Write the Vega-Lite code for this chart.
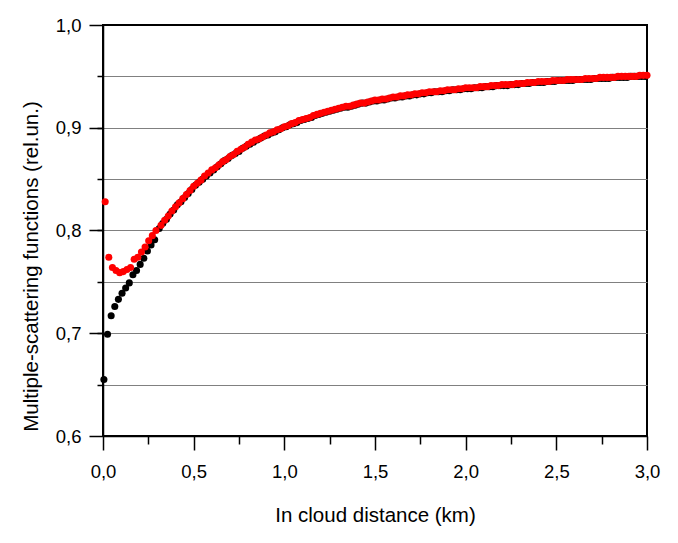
{
  "$schema": "https://vega.github.io/schema/vega-lite/v6.json",
  "width": 544,
  "height": 411,
  "autosize": {"type": "none"},
  "padding": {"left": 103, "top": 25, "right": 31, "bottom": 107},
  "background": "white",
  "config": {
    "view": {"stroke": "#000000", "strokeWidth": 2},
    "axis": {
      "labelFont": "Liberation Sans",
      "titleFont": "Liberation Sans",
      "labelFontSize": 18.5,
      "titleFontSize": 20.5,
      "titleFontWeight": "normal",
      "labelColor": "#000000",
      "titleColor": "#000000",
      "tickColor": "#000000",
      "domainColor": "#000000"
    }
  },
  "datasets": {
    "black": [
      {"x": 0.005, "y": 0.655}, {"x": 0.025, "y": 0.699}, {"x": 0.045, "y": 0.717}, {"x": 0.065, "y": 0.726},
      {"x": 0.085, "y": 0.733}, {"x": 0.105, "y": 0.739}, {"x": 0.125, "y": 0.744}, {"x": 0.145, "y": 0.749},
      {"x": 0.165, "y": 0.757}, {"x": 0.185, "y": 0.761}, {"x": 0.205, "y": 0.767}, {"x": 0.225, "y": 0.773},
      {"x": 0.245, "y": 0.780}, {"x": 0.265, "y": 0.786}, {"x": 0.285, "y": 0.791},
      {"x": 0.31, "y": 0.802}, {"x": 0.33, "y": 0.807}, {"x": 0.35, "y": 0.811}, {"x": 0.37, "y": 0.816},
      {"x": 0.39, "y": 0.820}, {"x": 0.41, "y": 0.825}, {"x": 0.43, "y": 0.828}, {"x": 0.45, "y": 0.832},
      {"x": 0.47, "y": 0.836}, {"x": 0.49, "y": 0.840}, {"x": 0.51, "y": 0.844}, {"x": 0.53, "y": 0.847},
      {"x": 0.55, "y": 0.850}, {"x": 0.57, "y": 0.853}, {"x": 0.59, "y": 0.856}, {"x": 0.61, "y": 0.859},
      {"x": 0.63, "y": 0.862}, {"x": 0.65, "y": 0.865}, {"x": 0.67, "y": 0.868}, {"x": 0.69, "y": 0.870},
      {"x": 0.71, "y": 0.873}, {"x": 0.73, "y": 0.875}, {"x": 0.75, "y": 0.877}, {"x": 0.77, "y": 0.880},
      {"x": 0.79, "y": 0.882}, {"x": 0.81, "y": 0.884}, {"x": 0.83, "y": 0.886}, {"x": 0.85, "y": 0.888},
      {"x": 0.87, "y": 0.890}, {"x": 0.89, "y": 0.892}, {"x": 0.91, "y": 0.893}, {"x": 0.93, "y": 0.895},
      {"x": 0.95, "y": 0.896}, {"x": 0.97, "y": 0.898}, {"x": 0.99, "y": 0.900}, {"x": 1.01, "y": 0.901},
      {"x": 1.03, "y": 0.903}, {"x": 1.05, "y": 0.904}, {"x": 1.07, "y": 0.905}, {"x": 1.09, "y": 0.907},
      {"x": 1.11, "y": 0.908}, {"x": 1.13, "y": 0.909}, {"x": 1.15, "y": 0.910}, {"x": 1.17, "y": 0.912},
      {"x": 1.19, "y": 0.913}, {"x": 1.21, "y": 0.914}, {"x": 1.23, "y": 0.915}, {"x": 1.25, "y": 0.916},
      {"x": 1.27, "y": 0.917}, {"x": 1.29, "y": 0.918}, {"x": 1.31, "y": 0.919}, {"x": 1.33, "y": 0.920},
      {"x": 1.35, "y": 0.920}, {"x": 1.37, "y": 0.921}, {"x": 1.39, "y": 0.922}, {"x": 1.41, "y": 0.923},
      {"x": 1.43, "y": 0.924}, {"x": 1.45, "y": 0.924}, {"x": 1.47, "y": 0.925}, {"x": 1.49, "y": 0.926},
      {"x": 1.51, "y": 0.926}, {"x": 1.53, "y": 0.927}, {"x": 1.55, "y": 0.927}, {"x": 1.57, "y": 0.928},
      {"x": 1.59, "y": 0.929}, {"x": 1.61, "y": 0.929}, {"x": 1.63, "y": 0.930}, {"x": 1.65, "y": 0.930},
      {"x": 1.67, "y": 0.931}, {"x": 1.69, "y": 0.931}, {"x": 1.71, "y": 0.932}, {"x": 1.73, "y": 0.932},
      {"x": 1.75, "y": 0.933}, {"x": 1.77, "y": 0.933}, {"x": 1.79, "y": 0.934}, {"x": 1.81, "y": 0.934},
      {"x": 1.83, "y": 0.935}, {"x": 1.85, "y": 0.935}, {"x": 1.87, "y": 0.935}, {"x": 1.89, "y": 0.936},
      {"x": 1.91, "y": 0.936}, {"x": 1.93, "y": 0.937}, {"x": 1.95, "y": 0.937}, {"x": 1.97, "y": 0.937},
      {"x": 1.99, "y": 0.938}, {"x": 2.01, "y": 0.938}, {"x": 2.03, "y": 0.938}, {"x": 2.05, "y": 0.939},
      {"x": 2.07, "y": 0.939}, {"x": 2.09, "y": 0.939}, {"x": 2.11, "y": 0.940}, {"x": 2.13, "y": 0.940},
      {"x": 2.15, "y": 0.940}, {"x": 2.17, "y": 0.941}, {"x": 2.19, "y": 0.941}, {"x": 2.21, "y": 0.941},
      {"x": 2.23, "y": 0.941}, {"x": 2.25, "y": 0.942}, {"x": 2.27, "y": 0.942}, {"x": 2.29, "y": 0.942},
      {"x": 2.31, "y": 0.943}, {"x": 2.33, "y": 0.943}, {"x": 2.35, "y": 0.943}, {"x": 2.37, "y": 0.944},
      {"x": 2.39, "y": 0.944}, {"x": 2.41, "y": 0.944}, {"x": 2.43, "y": 0.944}, {"x": 2.45, "y": 0.945},
      {"x": 2.47, "y": 0.945}, {"x": 2.49, "y": 0.945}, {"x": 2.51, "y": 0.946}, {"x": 2.53, "y": 0.946},
      {"x": 2.55, "y": 0.946}, {"x": 2.57, "y": 0.946}, {"x": 2.59, "y": 0.946}, {"x": 2.61, "y": 0.947},
      {"x": 2.63, "y": 0.947}, {"x": 2.65, "y": 0.947}, {"x": 2.67, "y": 0.947}, {"x": 2.69, "y": 0.947},
      {"x": 2.71, "y": 0.948}, {"x": 2.73, "y": 0.948}, {"x": 2.75, "y": 0.948}, {"x": 2.77, "y": 0.948},
      {"x": 2.79, "y": 0.948}, {"x": 2.81, "y": 0.949}, {"x": 2.83, "y": 0.949}, {"x": 2.85, "y": 0.949},
      {"x": 2.87, "y": 0.949}, {"x": 2.89, "y": 0.949}, {"x": 2.91, "y": 0.950}, {"x": 2.93, "y": 0.950},
      {"x": 2.95, "y": 0.950}, {"x": 2.97, "y": 0.950}, {"x": 2.99, "y": 0.950}
    ],
    "red": [
      {"x": 0.012, "y": 0.828}, {"x": 0.032, "y": 0.774}, {"x": 0.052, "y": 0.764}, {"x": 0.072, "y": 0.761},
      {"x": 0.092, "y": 0.759}, {"x": 0.112, "y": 0.760}, {"x": 0.132, "y": 0.762}, {"x": 0.152, "y": 0.764},
      {"x": 0.172, "y": 0.772}, {"x": 0.192, "y": 0.774}, {"x": 0.212, "y": 0.779}, {"x": 0.232, "y": 0.784},
      {"x": 0.252, "y": 0.790}, {"x": 0.272, "y": 0.795}, {"x": 0.292, "y": 0.800},
      {"x": 0.32, "y": 0.805}, {"x": 0.34, "y": 0.810}, {"x": 0.36, "y": 0.814}, {"x": 0.38, "y": 0.819},
      {"x": 0.40, "y": 0.823}, {"x": 0.42, "y": 0.827}, {"x": 0.44, "y": 0.831}, {"x": 0.46, "y": 0.835},
      {"x": 0.48, "y": 0.839}, {"x": 0.50, "y": 0.843}, {"x": 0.52, "y": 0.846}, {"x": 0.54, "y": 0.849},
      {"x": 0.56, "y": 0.853}, {"x": 0.58, "y": 0.856}, {"x": 0.60, "y": 0.859}, {"x": 0.62, "y": 0.861},
      {"x": 0.64, "y": 0.864}, {"x": 0.66, "y": 0.867}, {"x": 0.68, "y": 0.869}, {"x": 0.70, "y": 0.872},
      {"x": 0.72, "y": 0.874}, {"x": 0.74, "y": 0.877}, {"x": 0.76, "y": 0.879}, {"x": 0.78, "y": 0.881},
      {"x": 0.80, "y": 0.884}, {"x": 0.82, "y": 0.886}, {"x": 0.84, "y": 0.888}, {"x": 0.86, "y": 0.889},
      {"x": 0.88, "y": 0.891}, {"x": 0.90, "y": 0.893}, {"x": 0.92, "y": 0.895}, {"x": 0.94, "y": 0.896},
      {"x": 0.96, "y": 0.898}, {"x": 0.98, "y": 0.899}, {"x": 1.00, "y": 0.901}, {"x": 1.02, "y": 0.902},
      {"x": 1.04, "y": 0.904}, {"x": 1.06, "y": 0.905}, {"x": 1.08, "y": 0.907}, {"x": 1.10, "y": 0.908},
      {"x": 1.12, "y": 0.909}, {"x": 1.14, "y": 0.910}, {"x": 1.16, "y": 0.912}, {"x": 1.18, "y": 0.913},
      {"x": 1.20, "y": 0.914}, {"x": 1.22, "y": 0.915}, {"x": 1.24, "y": 0.916}, {"x": 1.26, "y": 0.917},
      {"x": 1.28, "y": 0.918}, {"x": 1.30, "y": 0.919}, {"x": 1.32, "y": 0.920}, {"x": 1.34, "y": 0.921},
      {"x": 1.36, "y": 0.921}, {"x": 1.38, "y": 0.922}, {"x": 1.40, "y": 0.923}, {"x": 1.42, "y": 0.924},
      {"x": 1.44, "y": 0.924}, {"x": 1.46, "y": 0.925}, {"x": 1.48, "y": 0.926}, {"x": 1.50, "y": 0.927},
      {"x": 1.52, "y": 0.927}, {"x": 1.54, "y": 0.928}, {"x": 1.56, "y": 0.928}, {"x": 1.58, "y": 0.929},
      {"x": 1.60, "y": 0.930}, {"x": 1.62, "y": 0.930}, {"x": 1.64, "y": 0.931}, {"x": 1.66, "y": 0.931},
      {"x": 1.68, "y": 0.932}, {"x": 1.70, "y": 0.932}, {"x": 1.72, "y": 0.933}, {"x": 1.74, "y": 0.933},
      {"x": 1.76, "y": 0.934}, {"x": 1.78, "y": 0.934}, {"x": 1.80, "y": 0.935}, {"x": 1.82, "y": 0.935},
      {"x": 1.84, "y": 0.935}, {"x": 1.86, "y": 0.936}, {"x": 1.88, "y": 0.936}, {"x": 1.90, "y": 0.937},
      {"x": 1.92, "y": 0.937}, {"x": 1.94, "y": 0.937}, {"x": 1.96, "y": 0.938}, {"x": 1.98, "y": 0.938},
      {"x": 2.00, "y": 0.939}, {"x": 2.02, "y": 0.939}, {"x": 2.04, "y": 0.939}, {"x": 2.06, "y": 0.939},
      {"x": 2.08, "y": 0.940}, {"x": 2.10, "y": 0.940}, {"x": 2.12, "y": 0.940}, {"x": 2.14, "y": 0.941},
      {"x": 2.16, "y": 0.941}, {"x": 2.18, "y": 0.941}, {"x": 2.20, "y": 0.942}, {"x": 2.22, "y": 0.942},
      {"x": 2.24, "y": 0.942}, {"x": 2.26, "y": 0.942}, {"x": 2.28, "y": 0.943}, {"x": 2.30, "y": 0.943},
      {"x": 2.32, "y": 0.943}, {"x": 2.34, "y": 0.944}, {"x": 2.36, "y": 0.944}, {"x": 2.38, "y": 0.944},
      {"x": 2.40, "y": 0.945}, {"x": 2.42, "y": 0.945}, {"x": 2.44, "y": 0.945}, {"x": 2.46, "y": 0.945},
      {"x": 2.48, "y": 0.946}, {"x": 2.50, "y": 0.946}, {"x": 2.52, "y": 0.946}, {"x": 2.54, "y": 0.946},
      {"x": 2.56, "y": 0.947}, {"x": 2.58, "y": 0.947}, {"x": 2.60, "y": 0.947}, {"x": 2.62, "y": 0.947},
      {"x": 2.64, "y": 0.947}, {"x": 2.66, "y": 0.948}, {"x": 2.68, "y": 0.948}, {"x": 2.70, "y": 0.948},
      {"x": 2.72, "y": 0.948}, {"x": 2.74, "y": 0.949}, {"x": 2.76, "y": 0.949}, {"x": 2.78, "y": 0.949},
      {"x": 2.80, "y": 0.949}, {"x": 2.82, "y": 0.949}, {"x": 2.84, "y": 0.950}, {"x": 2.86, "y": 0.950},
      {"x": 2.88, "y": 0.950}, {"x": 2.90, "y": 0.950}, {"x": 2.92, "y": 0.950}, {"x": 2.94, "y": 0.950},
      {"x": 2.96, "y": 0.951}, {"x": 2.98, "y": 0.951}, {"x": 3.00, "y": 0.951}
    ]
  },
  "layer": [
    {
      "data": {"name": "black"},
      "mark": {"type": "circle", "size": 50, "color": "#000000", "opacity": 1},
      "encoding": {
        "x": {
          "field": "x", "type": "quantitative",
          "scale": {"domain": [0, 3], "nice": false, "zero": false},
          "axis": {"orient": "bottom", "values": [0.25, 0.75, 1.25, 1.75, 2.25, 2.75], "labels": false, "domain": false, "grid": false, "tickSize": 8, "tickWidth": 1.5, "title": null}
        },
        "y": {
          "field": "y", "type": "quantitative",
          "scale": {"domain": [0.6, 1.0], "nice": false, "zero": false},
          "axis": {"orient": "left", "values": [0.65, 0.7, 0.75, 0.8, 0.85, 0.9, 0.95], "labels": false, "domain": false, "grid": true, "gridColor": "#808080", "gridWidth": 1, "gridOpacity": 1, "tickSize": 6, "tickWidth": 1.5, "title": null}
        }
      }
    },
    {
      "data": {"name": "red"},
      "mark": {"type": "circle", "size": 50, "color": "#ff0000", "opacity": 1},
      "encoding": {
        "x": {
          "field": "x", "type": "quantitative",
          "scale": {"domain": [0, 3], "nice": false, "zero": false},
          "axis": {"orient": "bottom", "values": [0, 0.5, 1, 1.5, 2, 2.5, 3], "labelExpr": "replace(format(datum.value, '.1f'), '.', ',')", "labelFlush": false, "grid": false, "tickSize": 14, "tickWidth": 1.5, "domainWidth": 1.5, "labelPadding": 12, "title": "In cloud distance (km)", "titlePadding": 25}
        },
        "y": {
          "field": "y", "type": "quantitative",
          "scale": {"domain": [0.6, 1.0], "nice": false, "zero": false},
          "axis": {"orient": "left", "values": [0.6, 0.7, 0.8, 0.9, 1.0], "labelExpr": "replace(format(datum.value, '.1f'), '.', ',')", "labelFlush": false, "grid": false, "tickSize": 14, "tickWidth": 1.5, "domainWidth": 1.5, "labelPadding": 8, "title": "Multiple-scattering functions (rel.un.)", "titlePadding": 14, "titleY": 241}
        }
      }
    }
  ],
  "resolve": {"axis": {"x": "independent", "y": "independent"}}
}
